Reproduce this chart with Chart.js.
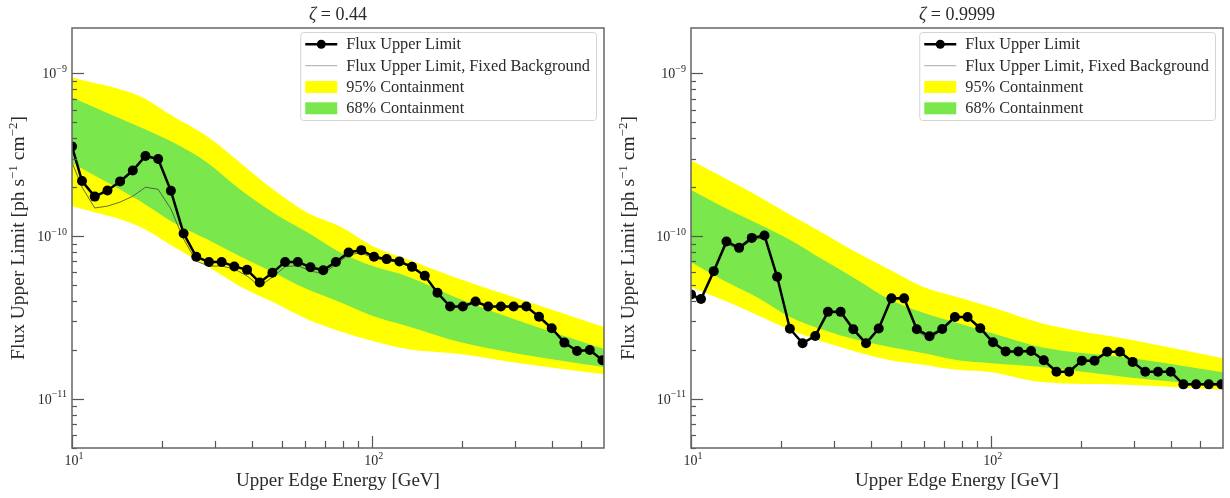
<!DOCTYPE html>
<html><head><meta charset="utf-8">
<script src="https://cdn.jsdelivr.net/npm/chart.js@4.4.1/dist/chart.umd.min.js"></script>
<style>
html,body{margin:0;padding:0;background:#fff;width:1230px;height:498px;overflow:hidden}
canvas{position:absolute;top:0}
#c1{left:0px} #c2{left:615px}
</style></head><body>
<canvas id="c1" width="615" height="498"></canvas>
<canvas id="c2" width="615" height="498"></canvas>
<script>
// ---------- DATA ----------
const energies = [10.0, 10.8, 11.91, 13.13, 14.47, 15.95, 17.58, 19.38, 21.37, 23.56, 25.97, 28.63, 31.56, 34.79, 38.36, 42.28, 46.61, 51.39, 56.65, 62.45, 68.85, 75.90, 83.67, 92.24, 101.7, 112.1, 123.6, 136.2, 150.2, 165.6, 182.5, 201.2, 221.8, 244.5, 269.6, 297.2, 327.6, 361.2, 398.2, 438.9, 483.9, 533.4, 588.0];

const titles = ["0.44", "0.9999"];

const fluxUL_a = [3.56e-10, 2.18e-10, 1.75e-10, 1.91e-10, 2.17e-10, 2.53e-10, 3.11e-10, 2.98e-10, 1.90e-10, 1.04e-10, 7.47e-11, 6.95e-11, 6.95e-11, 6.52e-11, 6.21e-11, 5.20e-11, 5.96e-11, 6.95e-11, 6.95e-11, 6.45e-11, 6.18e-11, 6.95e-11, 7.94e-11, 8.21e-11, 7.47e-11, 7.23e-11, 7.00e-11, 6.48e-11, 5.71e-11, 4.49e-11, 3.70e-11, 3.70e-11, 3.97e-11, 3.70e-11, 3.70e-11, 3.70e-11, 3.70e-11, 3.20e-11, 2.72e-11, 2.22e-11, 1.97e-11, 2.00e-11, 1.73e-11];
const fluxFixed_a = [2.84e-10, 2.00e-10, 1.49e-10, 1.53e-10, 1.62e-10, 1.76e-10, 2.00e-10, 1.94e-10, 1.47e-10, 9.6e-11, 7.03e-11, 6.55e-11, 6.55e-11, 6.3e-11, 5.69e-11, 4.94e-11, 5.6e-11, 6.5e-11, 6.6e-11, 6.1e-11, 5.9e-11, 6.7e-11, 7.7e-11, 7.9e-11, 7.3e-11, 7.1e-11, 6.9e-11, 6.4e-11, 5.65e-11, 4.45e-11, 3.68e-11, 3.68e-11, 3.93e-11, 3.68e-11, 3.68e-11, 3.68e-11, 3.68e-11, 3.18e-11, 2.71e-11, 2.21e-11, 1.96e-11, 1.99e-11, 1.72e-11];

const fluxUL_b = [4.39e-11, 4.11e-11, 6.10e-11, 9.28e-11, 8.48e-11, 9.76e-11, 1.01e-10, 5.63e-11, 2.70e-11, 2.20e-11, 2.44e-11, 3.43e-11, 3.43e-11, 2.68e-11, 2.20e-11, 2.71e-11, 4.15e-11, 4.15e-11, 2.68e-11, 2.43e-11, 2.69e-11, 3.19e-11, 3.19e-11, 2.72e-11, 2.23e-11, 1.96e-11, 1.96e-11, 1.97e-11, 1.73e-11, 1.47e-11, 1.47e-11, 1.72e-11, 1.72e-11, 1.95e-11, 1.95e-11, 1.69e-11, 1.47e-11, 1.47e-11, 1.47e-11, 1.23e-11, 1.23e-11, 1.23e-11, 1.23e-11];
const fluxFixed_b = [4.25e-11, 4.05e-11, 6.0e-11, 9.0e-11, 8.3e-11, 9.5e-11, 9.8e-11, 5.55e-11, 2.68e-11, 2.2e-11, 2.42e-11, 3.38e-11, 3.38e-11, 2.62e-11, 2.16e-11, 2.68e-11, 4.1e-11, 4.1e-11, 2.62e-11, 2.33e-11, 2.66e-11, 3.16e-11, 3.16e-11, 2.7e-11, 2.21e-11, 1.95e-11, 1.95e-11, 1.96e-11, 1.72e-11, 1.46e-11, 1.46e-11, 1.71e-11, 1.71e-11, 1.94e-11, 1.94e-11, 1.68e-11, 1.46e-11, 1.46e-11, 1.46e-11, 1.22e-11, 1.22e-11, 1.22e-11, 1.22e-11];

// containment bands (energy nodes + edges)
const bandE_a = [10, 16.9, 21.7, 28.2, 36.3, 46.8, 60.7, 78.2, 100.8, 130.8, 196.6, 311, 595];
const y95hi_a = [9.45e-10, 7.22e-10, 5.45e-10, 4.11e-10, 2.84e-10, 1.94e-10, 1.40e-10, 1.15e-10, 8.68e-11, 7.23e-11, 5.45e-11, 4.11e-11, 2.77e-11];
const y68hi_a = [7.12e-10, 4.66e-10, 3.77e-10, 2.84e-10, 1.94e-10, 1.40e-10, 1.06e-10, 7.98e-11, 6.55e-11, 5.68e-11, 4.11e-11, 3.01e-11, 2.03e-11];
const y68lo_a = [2.82e-10, 1.64e-10, 1.22e-10, 9.58e-11, 7.54e-11, 6.01e-11, 4.73e-11, 3.94e-11, 3.23e-11, 2.81e-11, 2.24e-11, 1.89e-11, 1.57e-11];
const y95lo_a = [1.53e-10, 1.14e-10, 8.68e-11, 6.55e-11, 4.93e-11, 3.94e-11, 3.10e-11, 2.61e-11, 2.27e-11, 2.03e-11, 1.89e-11, 1.66e-11, 1.42e-11];

const bandE_b = [10, 12.8, 16.6, 21.5, 27.7, 36.0, 46.4, 59.9, 77.8, 100.4, 147.7, 295.6, 595];
const y95hi_b = [2.93e-10, 2.30e-10, 1.78e-10, 1.35e-10, 1.04e-10, 7.87e-11, 6.18e-11, 4.86e-11, 4.22e-11, 3.67e-11, 2.92e-11, 2.30e-11, 1.78e-11];
const y68hi_b = [1.92e-10, 1.51e-10, 1.20e-10, 9.45e-11, 7.13e-11, 5.37e-11, 4.05e-11, 3.37e-11, 2.92e-11, 2.54e-11, 2.08e-11, 1.78e-11, 1.46e-11];
const y68lo_b = [6.92e-11, 5.37e-11, 4.22e-11, 3.18e-11, 2.65e-11, 2.30e-11, 2.08e-11, 1.91e-11, 1.73e-11, 1.66e-11, 1.57e-11, 1.35e-11, 1.20e-11];
const y95lo_b = [4.86e-11, 4.05e-11, 3.28e-11, 2.65e-11, 2.24e-11, 1.94e-11, 1.73e-11, 1.62e-11, 1.51e-11, 1.46e-11, 1.27e-11, 1.22e-11, 1.14e-11];

// axis ticks
const xTickValues = [10, 100];
const xTickExps = ["1", "2"];
const yTickValues = [1e-11, 1e-10, 1e-9];
const yTickExps = ["\u221211", "\u221210", "\u22129"];
const xLabel = "Upper Edge Energy [GeV]";
const legendLabels = ["Flux Upper Limit", "Flux Upper Limit, Fixed Background", "95% Containment", "68% Containment"];

// ---------- STYLE ----------
const SERIF = '"Liberation Serif", "DejaVu Serif", serif';
const TXT = '#2a2a2a';
const YELLOW = '#ffff00';
const GREEN = 'rgb(122,231,76)';
const X_MIN = 10, X_MAX = 595, Y_MIN = 5e-12, Y_MAX = 1.9e-9;

function fontOf(r) { return (r.it ? 'italic ' : '') + r.s + 'px ' + SERIF; }
function drawRuns(ctx, runs, x, y, align) {
  let total = 0;
  runs.forEach(r => { ctx.font = fontOf(r); r.w = ctx.measureText(r.t).width; total += r.w; });
  let cx = align === 'center' ? x - total / 2 : align === 'right' ? x - total : x;
  ctx.textAlign = 'left'; ctx.textBaseline = 'alphabetic';
  runs.forEach(r => { ctx.font = fontOf(r); ctx.fillText(r.t, cx, y + (r.dy || 0)); cx += r.w; });
  return total;
}

const panelPlugin = {
  id: 'panel',
  afterDraw(chart, args, o) {
    const ctx = chart.ctx, a = chart.chartArea, xs = chart.scales.x, ys = chart.scales.y;
    ctx.save();
    // ticks (inward)
    ctx.strokeStyle = '#555'; ctx.lineWidth = 1.2;
    const tick = (x1, y1, x2, y2) => { ctx.beginPath(); ctx.moveTo(x1, y1); ctx.lineTo(x2, y2); ctx.stroke(); };
    for (let d = 1; d <= 3; d++) {
      for (let m = 1; m <= 9; m++) {
        const v = m * Math.pow(10, d);
        if (v < X_MIN || v > X_MAX) continue;
        const px = Math.round(xs.getPixelForValue(v)) + 0.5;
        tick(px, a.bottom, px, a.bottom - (m === 1 ? 12 : 7));
      }
    }
    for (let d = -12; d <= -9; d++) {
      for (let m = 1; m <= 9; m++) {
        const v = m * Math.pow(10, d);
        if (v < Y_MIN || v > Y_MAX) continue;
        const py = Math.round(ys.getPixelForValue(v)) + 0.5;
        tick(a.left, py, a.left + (m === 1 ? 12 : 5), py);
      }
    }
    // frame
    ctx.strokeStyle = '#666'; ctx.lineWidth = 1.5;
    ctx.strokeRect(a.left, a.top, a.right - a.left, a.bottom - a.top);

    ctx.fillStyle = TXT;
    // x tick labels
    xTickValues.forEach((v, i) => {
      const px = xs.getPixelForValue(v);
      drawRuns(ctx, [{t: '10', s: 14}, {t: xTickExps[i], s: 10, dy: -6.5}], px + 2, a.bottom + 17, 'center');
    });
    // y tick labels
    yTickValues.forEach((v, i) => {
      const py = ys.getPixelForValue(v);
      drawRuns(ctx, [{t: '10', s: 14}, {t: yTickExps[i], s: 10, dy: -6.5}], a.left - 5, py + 5, 'right');
    });
    // x label
    drawRuns(ctx, [{t: xLabel, s: 19}], (a.left + a.right) / 2, a.bottom + 38, 'center');
    // y label
    ctx.save();
    ctx.translate(o.ylabX, (a.top + a.bottom) / 2);
    ctx.rotate(-Math.PI / 2);
    drawRuns(ctx, [{t: 'Flux Upper Limit [ph s', s: 19.5}, {t: '\u22121', s: 13, dy: -7.5}, {t: ' cm', s: 19.5}, {t: '\u22122', s: 13, dy: -7.5}, {t: ']', s: 19.5}], 0, 0, 'center');
    ctx.restore();
    // title
    drawRuns(ctx, [{t: '\u03B6', s: 18, it: true}, {t: ' = ' + o.title, s: 18}], (a.left + a.right) / 2, 19.5, 'center');

    // legend
    ctx.font = '16.3px ' + SERIF;
    let tw = 0;
    legendLabels.forEach(l => { tw = Math.max(tw, ctx.measureText(l).width); });
    const bw = tw + 52, bh = 88;
    const bx = a.right - 8 - bw, by = a.top + 4;
    ctx.beginPath();
    if (ctx.roundRect) ctx.roundRect(bx + 0.5, by + 0.5, bw, bh, 3); else ctx.rect(bx + 0.5, by + 0.5, bw, bh);
    ctx.fillStyle = 'rgba(255,255,255,0.85)'; ctx.fill();
    ctx.strokeStyle = '#d4d4d4'; ctx.lineWidth = 1; ctx.stroke();
    const rows = [12.3, 33.7, 55, 76.3].map(r => by + r);
    const hx = bx + 5, hw = 32, tx = bx + 46;
    // row 1
    ctx.strokeStyle = '#000'; ctx.lineWidth = 2.5;
    tick(hx, rows[0], hx + hw, rows[0]);
    ctx.fillStyle = '#000'; ctx.beginPath(); ctx.arc(hx + hw / 2, rows[0], 4.5, 0, Math.PI * 2); ctx.fill();
    // row 2
    ctx.strokeStyle = '#aaa'; ctx.lineWidth = 1;
    tick(hx, rows[1], hx + hw, rows[1]);
    // rows 3/4
    ctx.fillStyle = YELLOW; ctx.fillRect(hx, rows[2] - 6, hw, 12);
    ctx.fillStyle = GREEN; ctx.fillRect(hx, rows[3] - 6, hw, 12);
    ctx.fillStyle = TXT;
    legendLabels.forEach((l, i) => drawRuns(ctx, [{t: l, s: 16.3}], tx, rows[i] + 5, 'left'));
    ctx.restore();
  }
};

function pts(xsArr, ysArr) { return xsArr.map((e, i) => ({x: e, y: ysArr[i]})); }

function makeChart(id, p) {
  const band = (data, fill, color, order) => ({
    data, fill, backgroundColor: color, borderColor: 'transparent', borderWidth: 0,
    pointRadius: 0, cubicInterpolationMode: 'monotone', order, clip: 0
  });
  return new Chart(document.getElementById(id), {
    type: 'line',
    data: {
      datasets: [
        {label: legendLabels[0], data: pts(energies, p.ul), borderColor: '#000', borderWidth: 2.5,
         pointRadius: 5, pointBackgroundColor: '#000', pointBorderWidth: 0, fill: false, order: 0, clip: 0, tension: 0},
        {label: legendLabels[1], data: pts(energies, p.fixed), borderColor: '#444', borderWidth: 0.8,
         pointRadius: 0, fill: false, order: 1, clip: 0, tension: 0},
        band(pts(p.bandE, p.g_hi), 3, GREEN, 2),
        band(pts(p.bandE, p.g_lo), false, 'transparent', 3),
        band(pts(p.bandE, p.y_hi), 5, YELLOW, 4),
        band(pts(p.bandE, p.y_lo), false, 'transparent', 5)
      ]
    },
    options: {
      responsive: false, animation: false, devicePixelRatio: 1,
      layout: {padding: {left: 0, right: p.padR, top: 28, bottom: 0}},
      scales: {
        x: {type: 'logarithmic', min: X_MIN, max: X_MAX, ticks: {display: false}, grid: {display: false}, border: {display: false},
            afterFit: s => { s.height = 50; }},
        y: {type: 'logarithmic', min: Y_MIN, max: Y_MAX, ticks: {display: false}, grid: {display: false}, border: {display: false},
            afterFit: s => { s.width = p.yW; }}
      },
      plugins: {legend: {display: false}, tooltip: {enabled: false}, panel: {title: p.title, ylabX: p.ylabX}}
    },
    plugins: [panelPlugin]
  });
}

makeChart('c1', {ul: fluxUL_a, fixed: fluxFixed_a, bandE: bandE_a, g_hi: y68hi_a, g_lo: y68lo_a, y_hi: y95hi_a, y_lo: y95lo_a,
  title: titles[0], padR: 11, yW: 72, ylabX: 24});
makeChart('c2', {ul: fluxUL_b, fixed: fluxFixed_b, bandE: bandE_b, g_hi: y68hi_b, g_lo: y68lo_b, y_hi: y95hi_b, y_lo: y95lo_b,
  title: titles[1], padR: 7, yW: 76, ylabX: 19});
</script>
</body></html>
